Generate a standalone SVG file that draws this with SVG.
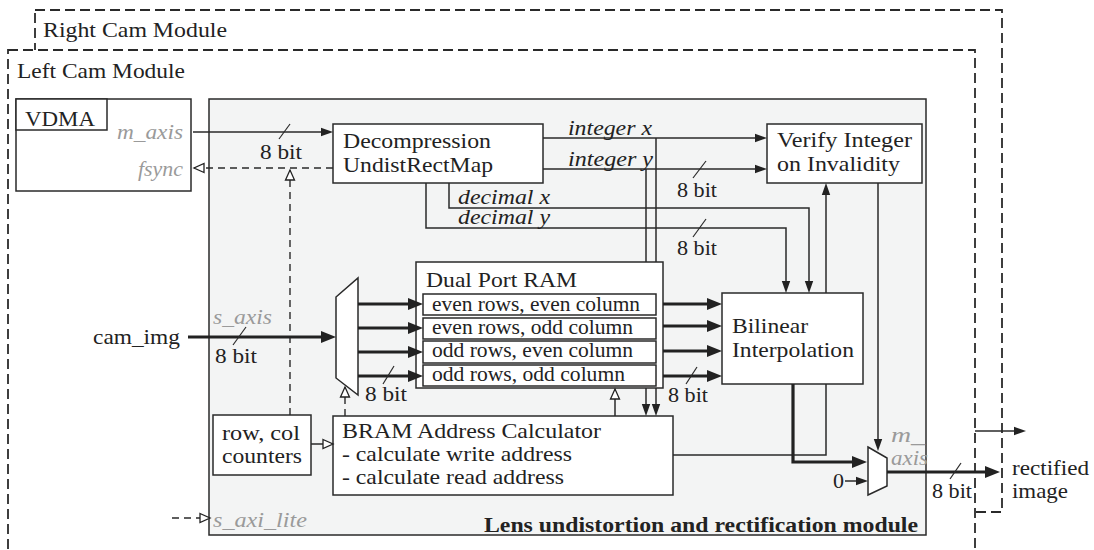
<svg xmlns="http://www.w3.org/2000/svg" width="1094" height="550" viewBox="0 0 1094 550">
<style>
text{font-family:Liberation Serif,Times New Roman,Times,Noto Serif,serif;font-size:22px;fill:#222}
.it{font-style:italic}
.gr{fill:#9a9a9a;font-style:italic}
.sm{font-size:20px}
.md{font-size:21px}
.bd{font-weight:bold;font-size:20px}
.box{fill:#fff;stroke:#2a2a2a;stroke-width:1.5}
.dash{fill:none;stroke:#2a2a2a;stroke-width:1.8;stroke-dasharray:10 5}
.ln{fill:none;stroke:#2a2a2a;stroke-width:1.5}
.tk{fill:none;stroke:#222;stroke-width:3.2}
.dl{fill:none;stroke:#2a2a2a;stroke-width:1.4;stroke-dasharray:7 5}
.sl{stroke:#2a2a2a;stroke-width:1.2}
</style>
<defs>
<marker id="arr" markerUnits="userSpaceOnUse" markerWidth="13" markerHeight="10" refX="8" refY="5" orient="auto"><path d="M0,0.8 L12,5 L0,9.2 Z" fill="#222"/></marker>
<marker id="arrT" markerUnits="userSpaceOnUse" markerWidth="16" markerHeight="13" refX="10" refY="6.5" orient="auto"><path d="M0,0.5 L15,6.5 L0,12.5 Z" fill="#222"/></marker>
<marker id="open" markerUnits="userSpaceOnUse" markerWidth="13" markerHeight="12" refX="11" refY="6" orient="auto"><path d="M1,1.5 L11,6 L1,10.5 Z" fill="#fff" stroke="#222" stroke-width="1.3"/></marker>
</defs>

<g id="right-cam-module">
<rect class="dash" x="35" y="10" width="967" height="502"/>
<text x="43" y="37" textLength="184" lengthAdjust="spacingAndGlyphs">Right Cam Module</text>
</g>
<g id="left-cam-module">
<rect x="8" y="50" width="967" height="520" fill="#fff" stroke="#2a2a2a" stroke-width="1.8" stroke-dasharray="10 5"/>
<text x="17" y="78" textLength="168" lengthAdjust="spacingAndGlyphs">Left Cam Module</text>
</g>
<g id="lens-module">
<rect x="209" y="99" width="717" height="436" fill="#f3f4f4" stroke="#2a2a2a" stroke-width="1.5"/>
<text class="bd" x="918" y="532" text-anchor="end" textLength="434" lengthAdjust="spacingAndGlyphs">Lens undistortion and rectification module</text>
<text class="gr" x="213" y="527" textLength="94" lengthAdjust="spacingAndGlyphs">s_axi_lite</text>
</g>

<g id="vdma">
<rect class="box" x="16" y="99" width="175" height="92"/>
<rect class="box" x="16" y="99" width="91" height="31"/>
<text x="25" y="126" textLength="70" lengthAdjust="spacingAndGlyphs">VDMA</text>
<text class="gr" x="183" y="139" text-anchor="end" textLength="66" lengthAdjust="spacingAndGlyphs">m_axis</text>
<text class="gr" x="183" y="176" text-anchor="end" textLength="45" lengthAdjust="spacingAndGlyphs">fsync</text>
</g>

<g id="decompression">
<rect class="box" x="333" y="124" width="210" height="59"/>
<text x="343" y="148" textLength="148" lengthAdjust="spacingAndGlyphs">Decompression</text>
<text x="343" y="172" textLength="150" lengthAdjust="spacingAndGlyphs">UndistRectMap</text>
</g>

<g id="verify-integer">
<rect class="box" x="767" y="124" width="155" height="59"/>
<text x="777" y="147" textLength="135" lengthAdjust="spacingAndGlyphs">Verify Integer</text>
<text x="777" y="171" textLength="123" lengthAdjust="spacingAndGlyphs">on Invalidity</text>
</g>

<g id="dual-port-ram">
<rect class="box" x="416" y="262" width="247" height="126"/>
<text x="426" y="287" textLength="151" lengthAdjust="spacingAndGlyphs">Dual Port RAM</text>
<rect class="box" x="423" y="294" width="233" height="21"/>
<rect class="box" x="423" y="318" width="233" height="21"/>
<rect class="box" x="423" y="341" width="233" height="22"/>
<rect class="box" x="423" y="365" width="233" height="21"/>
<text class="sm" x="432" y="311" textLength="208" lengthAdjust="spacingAndGlyphs">even rows, even column</text>
<text class="sm" x="432" y="334" textLength="201" lengthAdjust="spacingAndGlyphs">even rows, odd column</text>
<text class="sm" x="432" y="357" textLength="201" lengthAdjust="spacingAndGlyphs">odd rows, even column</text>
<text class="sm" x="432" y="381" textLength="193" lengthAdjust="spacingAndGlyphs">odd rows, odd column</text>
</g>

<g id="bilinear">
<rect class="box" x="722" y="293" width="141" height="91"/>
<text x="732" y="333" textLength="76" lengthAdjust="spacingAndGlyphs">Bilinear</text>
<text x="732" y="357" textLength="122" lengthAdjust="spacingAndGlyphs">Interpolation</text>
</g>

<g id="input-demux">
<polygon class="box" points="336,297 358,278 358,395 336,378"/>
</g>

<g id="output-mux">
<polygon class="box" points="868,447 887,458 887,486 868,495"/>
</g>

<g id="counters">
<rect class="box" x="213" y="415" width="98" height="60"/>
<text x="222" y="440" textLength="78" lengthAdjust="spacingAndGlyphs">row, col</text>
<text x="222" y="463" textLength="80" lengthAdjust="spacingAndGlyphs">counters</text>
</g>

<g id="bram-address-calculator">
<rect class="box" x="333" y="416" width="340" height="79"/>
<text class="md" x="342" y="438" textLength="259" lengthAdjust="spacingAndGlyphs">BRAM Address Calculator</text>
<text class="md" x="342" y="461" textLength="230" lengthAdjust="spacingAndGlyphs">- calculate write address</text>
<text class="md" x="342" y="484" textLength="222" lengthAdjust="spacingAndGlyphs">- calculate read address</text>
</g>

<g id="connectors">
<path class="ln" stroke-width="2" d="M193,132 H329" marker-end="url(#arr)"/>
<line class="sl" x1="279" y1="139" x2="290" y2="124"/>
<text x="260" y="159" textLength="42" lengthAdjust="spacingAndGlyphs">8 bit</text>
<path class="dl" d="M333,168 H194" marker-end="url(#open)"/>
<path class="dl" d="M290,415 V170" marker-end="url(#open)"/>

<path class="ln" d="M543,138 H763" marker-end="url(#arr)"/>
<path class="ln" d="M543,169 H763" marker-end="url(#arr)"/>
<text class="it" x="568" y="135" textLength="84" lengthAdjust="spacingAndGlyphs">integer x</text>
<text class="it" x="568" y="166" textLength="85" lengthAdjust="spacingAndGlyphs">integer y</text>
<line class="sl" x1="693" y1="178" x2="706" y2="161"/>
<text x="677" y="197" textLength="40" lengthAdjust="spacingAndGlyphs">8 bit</text>
<path class="ln" d="M656,138 V262"/>
<path class="ln" d="M646,169 V262"/>
<path class="ln" d="M656,388 V412" marker-end="url(#arr)"/>
<path class="ln" d="M646,388 V412" marker-end="url(#arr)"/>

<path class="ln" d="M449,183 V208 H809 V289" marker-end="url(#arr)"/>
<path class="ln" d="M426,183 V228 H786 V289" marker-end="url(#arr)"/>
<text class="it sm" x="458" y="204" textLength="92" lengthAdjust="spacingAndGlyphs">decimal x</text>
<text class="it sm" x="458" y="224" textLength="92" lengthAdjust="spacingAndGlyphs">decimal y</text>
<line class="sl" x1="693" y1="237" x2="706" y2="219"/>
<text x="677" y="255" textLength="40" lengthAdjust="spacingAndGlyphs">8 bit</text>

<path class="ln" d="M673,455 H826 V384"/>
<path class="ln" d="M826,293 V187" marker-end="url(#arr)"/>
<path class="ln" d="M878,183 V447" marker-end="url(#arr)"/>

<path class="tk" d="M188,337 H331" marker-end="url(#arrT)"/>
<line class="sl" x1="233" y1="345" x2="246" y2="327"/>
<text class="gr" x="213" y="324" textLength="59" lengthAdjust="spacingAndGlyphs">s_axis</text>
<text x="215" y="363" textLength="42" lengthAdjust="spacingAndGlyphs">8 bit</text>
<text x="93" y="344" textLength="87" lengthAdjust="spacingAndGlyphs">cam_img</text>

<path class="tk" d="M358,304 H418" marker-end="url(#arrT)"/>
<path class="tk" d="M358,328 H418" marker-end="url(#arrT)"/>
<path class="tk" d="M358,352 H418" marker-end="url(#arrT)"/>
<path class="tk" d="M358,376 H418" marker-end="url(#arrT)"/>
<line class="sl" x1="383" y1="384" x2="394" y2="366"/>
<text x="365" y="401" textLength="42" lengthAdjust="spacingAndGlyphs">8 bit</text>

<path class="tk" d="M663,304 H717" marker-end="url(#arrT)"/>
<path class="tk" d="M663,326 H717" marker-end="url(#arrT)"/>
<path class="tk" d="M663,351 H717" marker-end="url(#arrT)"/>
<path class="tk" d="M663,376 H717" marker-end="url(#arrT)"/>
<line class="sl" x1="686" y1="384" x2="697" y2="367"/>
<text x="668" y="402" textLength="40" lengthAdjust="spacingAndGlyphs">8 bit</text>

<path class="dl" d="M345,416 V387" marker-end="url(#open)"/>
<path class="ln" d="M615,416 V389" marker-end="url(#open)"/>
<path class="ln" d="M311,444 H333" marker-end="url(#open)"/>
<path class="dl" d="M172,518 H210" marker-end="url(#open)"/>

<path class="tk" d="M793,384 V462 H862" marker-end="url(#arrT)"/>
<path class="ln" d="M845,481 H864" marker-end="url(#arr)"/>
<text x="833" y="488">0</text>
<text class="gr md" x="891" y="442" textLength="34" lengthAdjust="spacingAndGlyphs">m_</text>
<text class="gr md" x="891" y="465" textLength="37" lengthAdjust="spacingAndGlyphs">axis</text>

<path class="tk" d="M887,472 H995" marker-end="url(#arrT)"/>
<line class="sl" x1="950" y1="479" x2="961" y2="463"/>
<text x="932" y="498" textLength="40" lengthAdjust="spacingAndGlyphs">8 bit</text>
<text x="1012" y="475" textLength="77" lengthAdjust="spacingAndGlyphs">rectified</text>
<text x="1012" y="498" textLength="56" lengthAdjust="spacingAndGlyphs">image</text>
<path class="ln" d="M975,431 H1022" marker-end="url(#arr)"/>
</g>
</svg>
